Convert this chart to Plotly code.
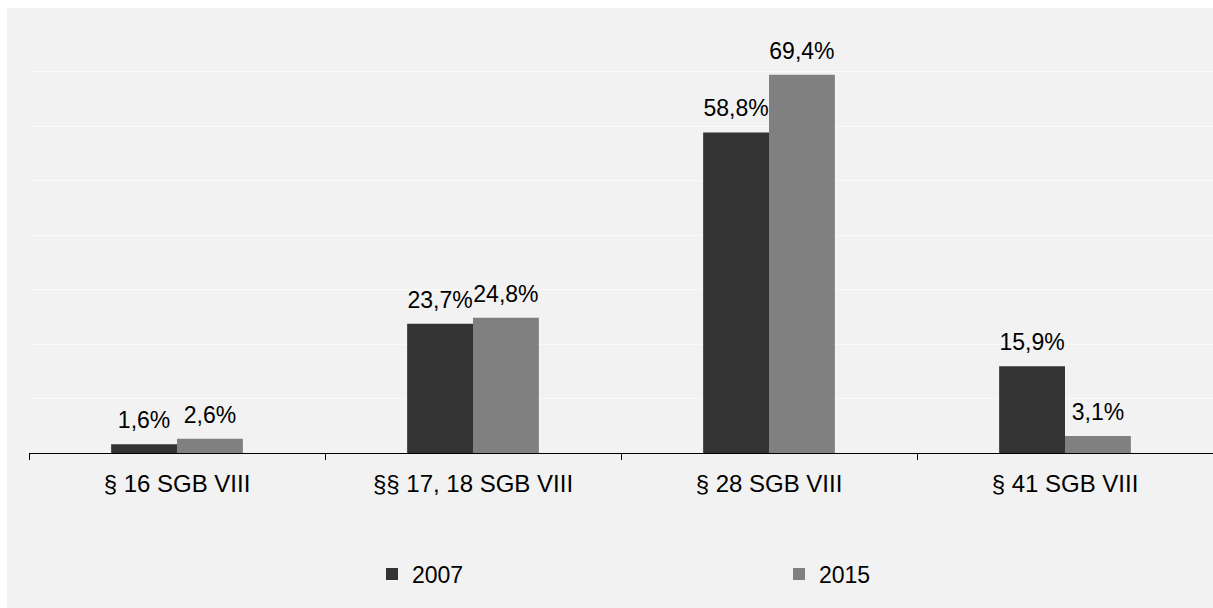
import plotly.graph_objects as go

# Anteile je Leistungsart (in %)
categories = ["§ 16 SGB VIII", "§§ 17, 18 SGB VIII", "§ 28 SGB VIII", "§ 41 SGB VIII"]
share_2007 = [1.6, 23.7, 58.8, 15.9]
share_2015 = [2.6, 24.8, 69.4, 3.1]

BG = "#f2f2f2"
FONT = "Liberation Sans, Arial, sans-serif"

W, H = 1213, 608
ML, MR, MT, MB = 29, 0, 17, 155
PW, PH = W - ML - MR, H - MT - MB

fig = go.Figure()
for name, vals, col in [("2007", share_2007, "#333333"), ("2015", share_2015, "#808080")]:
    fig.add_trace(go.Bar(
        x=categories, y=vals, name=name, offsetgroup=name,
        marker=dict(color=col, line=dict(width=0)),
        hoverinfo="skip",
    ))
    # value labels, grouped like the bars, lifted by an invisible marker
    fig.add_trace(go.Scatter(
        x=categories, y=vals, offsetgroup=name, mode="markers+text",
        marker=dict(size=15, opacity=0),
        text=[f"{v:.1f}%".replace(".", ",") for v in vals],
        textposition="top center",
        textfont=dict(size=23, color="#000000"),
        showlegend=False, hoverinfo="skip", cliponaxis=False,
    ))

# white frame strips at top/left (chart area is cropped on right/bottom)
fig.add_shape(type="rect", xref="paper", yref="paper", layer="above",
              x0=-ML / PW, x1=1.01, y0=1 + (MT - 8) / PH, y1=1 + MT / PH,
              fillcolor="white", line=dict(width=0))
fig.add_shape(type="rect", xref="paper", yref="paper", layer="above",
              x0=-ML / PW, x1=-(ML - 7) / PW, y0=-MB / PH, y1=1 + MT / PH,
              fillcolor="white", line=dict(width=0))

fig.update_layout(
    width=W, height=H,
    paper_bgcolor=BG, plot_bgcolor=BG,
    font=dict(family=FONT, size=23, color="#000000"),
    barmode="group", bargap=0.555, bargroupgap=0,
    scattermode="group", scattergap=0.555,
    margin=dict(l=ML, r=MR, t=MT, b=MB),
    xaxis=dict(
        showline=True, linecolor="#000000", linewidth=1,
        ticks="outside", tickson="boundaries", ticklen=6, tickcolor="#000000",
        ticklabelstandoff=9, showgrid=False, tickfont=dict(size=24),
    ),
    yaxis=dict(
        range=[0, 80], dtick=10, showticklabels=False,
        showgrid=True, gridcolor="#fafafa", gridwidth=1,
        zeroline=False, showline=False,
    ),
    legend=dict(
        orientation="h", x=(372 - ML) / PW, xanchor="left",
        y=(453 - 574) / PH, yanchor="middle",
        entrywidth=362, font=dict(size=23), bgcolor="rgba(0,0,0,0)",
    ),
    showlegend=True,
)

fig.write_html(
    "out.html",
    config={"displayModeBar": False},
    post_script="document.body.style.margin='0';document.body.style.overflow='hidden';",
)
